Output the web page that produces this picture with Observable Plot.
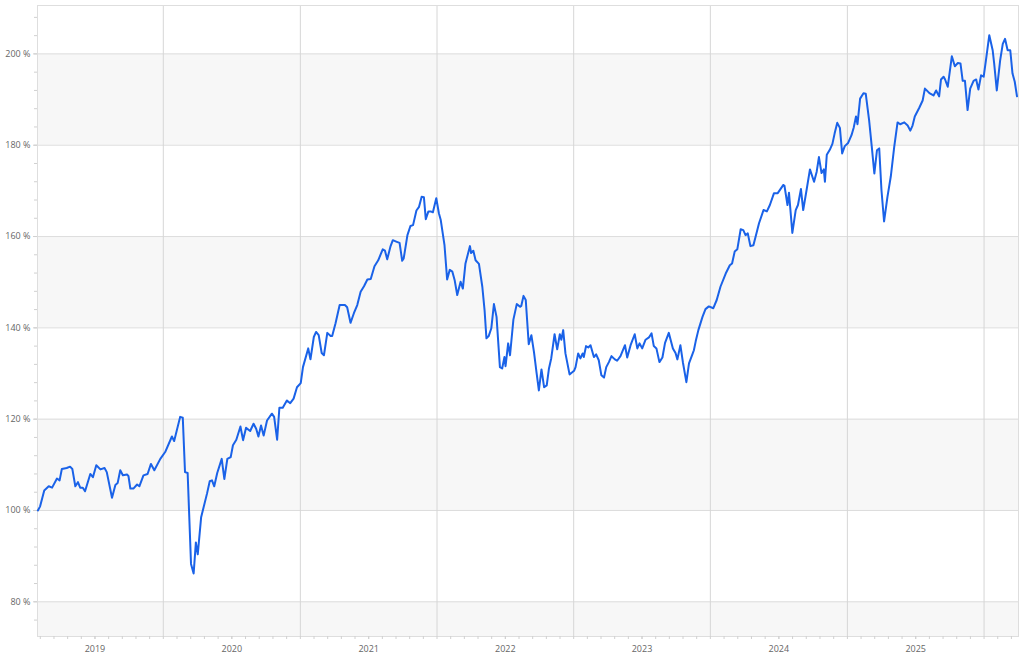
<!DOCTYPE html>
<html><head><meta charset="utf-8">
<script src="https://cdn.jsdelivr.net/npm/d3@7"></script>
<script src="https://cdn.jsdelivr.net/npm/@observablehq/plot@0.6"></script>
<style>html,body{margin:0;padding:0;background:#fff;}</style>
</head><body><div id="chart"></div>
<script>
const dates = [
"2019-01-31","2019-02-06","2019-02-17","2019-03-01","2019-03-10","2019-03-23","2019-03-30","2019-04-05","2019-04-18","2019-04-27",
"2019-05-03","2019-05-11","2019-05-18","2019-05-24","2019-05-31","2019-06-06","2019-06-20","2019-06-27","2019-07-06","2019-07-17",
"2019-07-28","2019-08-03","2019-08-17","2019-08-26","2019-09-01","2019-09-08","2019-09-15","2019-09-26","2019-09-30","2019-10-05",
"2019-10-13","2019-10-23","2019-10-29","2019-11-09","2019-11-20","2019-11-29","2019-12-08","2019-12-24",
"2020-01-06","2020-01-24","2020-01-30","2020-02-15","2020-02-22","2020-02-28","2020-03-06","2020-03-15","2020-03-22","2020-03-28",
"2020-04-02","2020-04-11","2020-04-27","2020-05-04","2020-05-10","2020-05-16","2020-05-24","2020-06-05","2020-06-12","2020-06-20",
"2020-06-29","2020-07-05","2020-07-14","2020-07-25","2020-08-01","2020-08-09","2020-08-20","2020-08-29","2020-09-05","2020-09-11",
"2020-09-18","2020-09-25","2020-10-04","2020-10-17","2020-10-23","2020-10-31","2020-11-06","2020-11-15","2020-11-26","2020-12-05",
"2020-12-14","2020-12-23",
"2021-01-02","2021-01-08","2021-01-22","2021-01-28","2021-02-06","2021-02-12","2021-02-19","2021-02-27","2021-03-05","2021-03-14",
"2021-03-23","2021-03-27","2021-04-05","2021-04-16","2021-04-30","2021-05-06","2021-05-15","2021-05-24","2021-06-02","2021-06-11",
"2021-06-20","2021-06-29","2021-07-08","2021-07-18","2021-07-28","2021-08-09","2021-08-15","2021-08-21","2021-08-30","2021-09-05",
"2021-09-14","2021-09-23","2021-09-30","2021-10-04","2021-10-14","2021-10-22","2021-10-29","2021-11-07","2021-11-14","2021-11-21",
"2021-11-27","2021-12-02","2021-12-09","2021-12-15","2021-12-21","2021-12-30",
"2022-01-06","2022-01-11","2022-01-21","2022-01-28","2022-02-04","2022-02-11","2022-02-17","2022-02-24","2022-03-05","2022-03-11",
"2022-03-18","2022-03-30","2022-04-02","2022-04-08","2022-04-14","2022-04-23","2022-05-02","2022-05-08","2022-05-13","2022-05-19",
"2022-05-26","2022-06-02","2022-06-09","2022-06-18","2022-06-24","2022-06-30","2022-07-03","2022-07-10","2022-07-15","2022-07-24",
"2022-08-02","2022-08-11","2022-08-14","2022-08-20","2022-08-26","2022-09-03","2022-09-10","2022-09-17","2022-09-24","2022-09-30",
"2022-10-07","2022-10-14","2022-10-21","2022-10-27","2022-11-02","2022-11-11","2022-11-18","2022-11-25","2022-11-29","2022-12-04",
"2022-12-10","2022-12-21",
"2023-01-02","2023-01-06","2023-01-13","2023-01-19","2023-01-25","2023-01-28","2023-02-03","2023-02-09","2023-02-15","2023-02-24",
"2023-03-02","2023-03-09","2023-03-16","2023-03-23","2023-03-29","2023-04-05","2023-04-12","2023-04-21","2023-04-27","2023-05-06",
"2023-05-18","2023-05-24","2023-06-02","2023-06-13","2023-06-20","2023-06-26","2023-07-03","2023-07-12","2023-07-21","2023-07-28",
"2023-08-03","2023-08-10","2023-08-18","2023-08-26","2023-09-02","2023-09-12","2023-09-23","2023-09-30","2023-10-05","2023-10-13",
"2023-10-20","2023-10-29","2023-11-05","2023-11-14","2023-11-18","2023-11-23","2023-11-30","2023-12-11","2023-12-19","2023-12-28",
"2024-01-09","2024-01-18","2024-01-28","2024-02-11","2024-02-22","2024-02-28","2024-03-06","2024-03-13","2024-03-22","2024-03-29",
"2024-04-04","2024-04-10","2024-04-17","2024-04-25","2024-05-01","2024-05-10","2024-05-22","2024-05-31","2024-06-08","2024-06-19",
"2024-06-29","2024-07-14","2024-07-17","2024-07-25","2024-07-29","2024-08-07","2024-08-16","2024-08-22","2024-08-30","2024-09-05",
"2024-09-14","2024-09-23","2024-10-04","2024-10-11","2024-10-17","2024-10-24","2024-10-30","2024-11-02","2024-11-07","2024-11-15",
"2024-11-22","2024-11-28","2024-12-05","2024-12-12","2024-12-18","2024-12-25",
"2025-01-03","2025-01-12","2025-01-18","2025-01-24","2025-01-28","2025-02-04","2025-02-13","2025-02-19","2025-02-28","2025-03-07",
"2025-03-14","2025-03-21","2025-03-27","2025-04-02","2025-04-09","2025-04-18","2025-04-27","2025-05-06","2025-05-15","2025-05-22",
"2025-06-02","2025-06-11","2025-06-18","2025-06-24","2025-06-30","2025-07-12","2025-07-21","2025-07-27","2025-08-01","2025-08-08",
"2025-08-19","2025-08-26","2025-09-03","2025-09-08","2025-09-15","2025-09-19","2025-09-26","2025-10-07","2025-10-15","2025-10-23",
"2025-10-30","2025-11-05","2025-11-11","2025-11-18","2025-11-25","2025-12-04","2025-12-11","2025-12-17","2025-12-24","2025-12-31",
"2026-01-06","2026-01-15","2026-01-24","2026-01-28","2026-02-04","2026-02-13","2026-02-20","2026-02-26","2026-03-05","2026-03-12",
"2026-03-18","2026-03-24","2026-03-30"
];
const values = [
100.0,100.9,104.4,105.3,105.0,107.0,106.6,109.1,109.3,109.6,
109.1,105.3,106.2,105.0,105.0,104.2,108.0,107.3,109.9,109.0,
109.3,108.4,102.8,105.6,106.0,108.8,107.7,107.9,107.5,104.8,
104.8,105.7,105.3,107.7,108.0,110.2,108.8,111.3,
112.8,116.2,115.2,120.5,120.3,108.4,108.2,88.3,86.2,93.0,
90.4,98.5,103.8,106.4,106.6,105.3,108.2,111.3,106.9,111.3,
111.7,114.3,115.5,118.4,115.4,118.1,117.4,119.0,117.9,116.2,
118.6,116.4,119.7,121.2,120.5,115.5,122.5,122.5,124.1,123.5,
124.5,127.0,
127.9,131.4,135.5,133.1,138.0,139.1,138.4,134.5,134.0,138.9,
138.2,138.2,141.0,145.0,145.0,144.5,141.1,143.2,145.0,147.9,
149.1,150.6,150.7,153.5,154.8,157.2,156.9,155.0,157.9,159.2,
158.9,158.6,154.7,155.2,160.3,162.3,162.5,165.7,166.5,168.7,
168.6,163.8,165.5,165.5,165.3,168.4,
165.1,163.6,158.1,150.6,152.7,152.3,150.5,147.2,150.1,148.6,
154.1,157.9,156.4,156.9,154.8,154.0,149.0,143.9,137.7,138.2,
139.9,145.2,142.4,131.4,131.1,133.6,131.6,136.6,134.0,141.8,
145.2,144.6,144.8,147.0,146.1,136.4,138.4,134.7,130.1,126.3,
130.9,127.0,127.4,131.1,133.3,138.6,135.3,138.6,137.4,139.5,
134.4,129.8,
130.6,131.4,134.4,133.3,134.4,133.6,136.0,135.7,136.2,133.6,
134.2,132.9,129.6,129.1,131.4,132.5,133.8,133.1,132.8,133.8,
136.2,133.5,136.2,138.6,135.5,136.6,135.5,137.4,137.9,138.8,
136.0,135.5,132.5,133.5,136.7,138.9,135.5,134.5,133.1,136.2,
132.3,128.1,132.2,134.2,135.1,137.1,139.5,142.4,144.1,144.7,
144.3,146.1,149.0,151.9,153.7,154.1,156.7,157.2,161.6,161.4,
160.3,160.7,157.9,158.1,160.0,162.9,165.8,165.5,166.9,169.5,
169.5,171.3,171.1,166.9,169.6,160.8,165.8,166.9,170.4,165.8,
170.2,174.7,172.0,174.2,177.4,173.9,174.7,172.0,177.9,179.0,
180.3,182.6,184.9,183.8,178.2,179.8,
180.5,182.2,183.9,186.3,184.6,190.2,191.4,191.3,185.5,179.8,
173.8,178.9,179.3,170.2,163.3,168.7,173.2,179.6,185.0,184.6,
185.0,184.3,183.2,184.3,186.3,188.2,189.8,192.4,192.0,191.4,
190.9,192.0,190.7,194.4,195.0,194.4,192.8,199.5,197.3,198.0,
197.9,194.1,194.1,187.7,192.4,194.1,194.4,192.2,195.3,195.0,
198.6,204.1,200.8,197.9,192.0,198.6,202.2,203.3,200.8,200.8,
195.7,193.9,190.7
];
const xDomain = ["2019-01-30", "2026-04-03"];
const yDomain = [72.4, 210.6];
const yTicks = [80, 100, 120, 140, 160, 180, 200];
const bandFrom = [72.4, 100, 140, 180];
const bandTo = [80, 120, 160, 200];
const yearLabels = [2019, 2020, 2021, 2022, 2023, 2024, 2025];
const yearLines = [2020, 2021, 2022, 2023, 2024, 2025, 2026];

const data = dates.map((d, i) => ({date: new Date(d), value: values[i]}));
const bands = bandFrom.map((f, i) => ({y1: f, y2: bandTo[i]}));
const utcYear = y => new Date(Date.UTC(y, 0, 1));
const fracDate = (y, f) => { const a = utcYear(y), b = utcYear(y + 1); return new Date(+a + (b - a) * f); };
const labelDates = yearLabels.map(y => fracDate(y, 0.5));
const gridDates = yearLines.map(utcYear);
const x0 = new Date(xDomain[0]), x1 = new Date(xDomain[1]);
const minorX = [];
for (let y = 2019; y <= 2026; y++) for (let k = 0; k < 10; k++) { const d = fracDate(y, k / 10); if (d >= x0 && d <= x1) minorX.push(d); }
const minorY = d3.range(76, 211, 4).filter(v => v >= yDomain[0] && v <= yDomain[1]);

const chart = Plot.plot({
  width: 1024,
  height: 660,
  marginLeft: 37,
  marginRight: 6,
  marginTop: 5,
  marginBottom: 24,
  style: {fontFamily: "'Open Sans', sans-serif", fontSize: "9px", background: "#fff", color: "#666"},
  x: {type: "utc", domain: [x0, x1]},
  y: {domain: yDomain},
  marks: [
    Plot.rect(bands, {y1: "y1", y2: "y2", fill: "#f7f7f7"}),
    Plot.ruleY(yTicks, {stroke: "#dddddd", strokeWidth: 1}),
    Plot.ruleX(gridDates, {stroke: "#d6d6d6", strokeWidth: 1}),
    Plot.frame({stroke: "#dedede"}),
    Plot.axisY(minorY, {tickSize: 3, tickFormat: () => "", stroke: "#d0d0d0", label: null}),
    Plot.axisY(yTicks, {tickSize: 4, tickPadding: 3, tickFormat: d => d + " %", stroke: "#d0d0d0", fill: "#666", label: null}),
    Plot.axisX(minorX, {tickSize: 3, tickFormat: () => "", stroke: "#d0d0d0", label: null}),
    Plot.axisX(labelDates, {tickSize: 3, tickPadding: 6, tickFormat: d => String(d.getUTCFullYear()), stroke: "#d0d0d0", fill: "#666", label: null}),
    Plot.line(data, {x: "date", y: "value", stroke: "#1a62e8", strokeWidth: 2, curve: "linear"})
  ]
});
document.getElementById("chart").appendChild(chart);
</script>
</body></html>
